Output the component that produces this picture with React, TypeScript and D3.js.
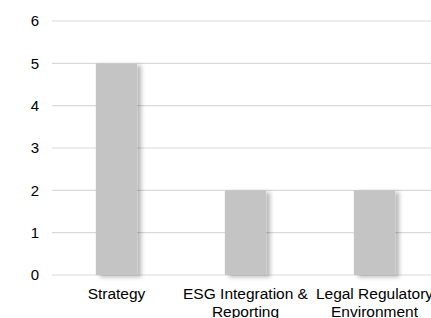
import * as d3 from "d3";

const categories = ["Strategy", "ESG Integration & Reporting", "Legal Regulatory Environment"];
const categoryLines = [["Strategy"], ["ESG Integration &", "Reporting"], ["Legal Regulatory", "Environment"]];
const counts = [5, 2, 2];
const yTicks = [0, 1, 2, 3, 4, 5, 6];

const width = 431;
const height = 318;

export default function App() {
  const x = d3
    .scaleBand()
    .domain(categories)
    .range([52, 439])
    .paddingInner(0.68)
    .paddingOuter(0.34);
  const y = d3.scaleLinear().domain([0, 6]).range([275, 21]);

  return (
    <div style={{ position: "absolute", left: 0, top: 0 }}>
      <svg width={width} height={height} style={{ display: "block", fontFamily: "Arial, 'Liberation Sans', sans-serif" }}>
        <defs>
          <filter id="shadow" x="-30%" y="-10%" width="160%" height="130%">
            <feDropShadow dx="4" dy="2" stdDeviation="2.2" floodColor="#000" floodOpacity="0.28" />
          </filter>
        </defs>
        <rect width={width} height={height} fill="#fff" />
        {/* grid */}
        {yTicks.map((t) => (
          <g key={t}>
            <line x1={52} x2={width} y1={y(t)} y2={y(t)} stroke="#d9d9d9" strokeWidth={1.2} />
            <text x={39} y={y(t)} dy="0.35em" textAnchor="end" fontSize={15} fill="#000">
              {t}
            </text>
          </g>
        ))}
        {/* bars */}
        {categories.map((c, i) => (
          <rect
            key={c}
            x={x(c)}
            y={y(counts[i])}
            width={x.bandwidth()}
            height={y(0) - y(counts[i])}
            fill="#c4c4c4"
            filter="url(#shadow)"
          />
        ))}
        {/* category labels */}
        {categories.map((c, i) => (
          <text
            key={c}
            x={(x(c) ?? 0) + x.bandwidth() / 2}
            y={299}
            textAnchor="middle"
            fontSize={15.5}
            fill="#000"
          >
            {categoryLines[i].map((l, j) => (
              <tspan key={j} x={(x(c) ?? 0) + x.bandwidth() / 2} dy={j === 0 ? 0 : 18}>
                {l}
              </tspan>
            ))}
          </text>
        ))}
      </svg>
    </div>
  );
}
